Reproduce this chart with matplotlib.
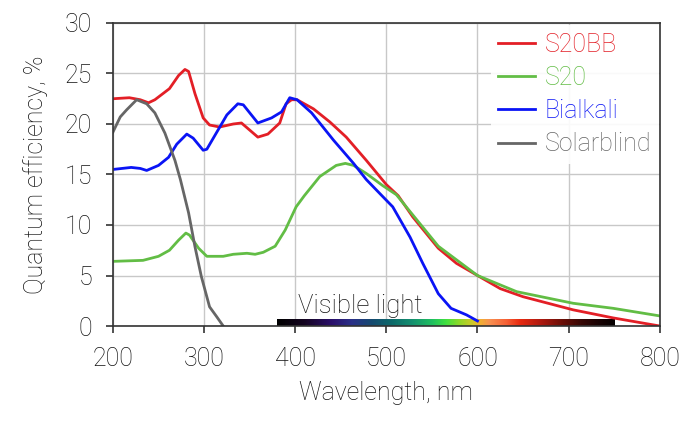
import matplotlib
matplotlib.use("Agg")
import matplotlib.pyplot as plt
import numpy as np
from matplotlib.colors import LinearSegmentedColormap

plt.rcParams['font.family'] = ['Roboto', 'DejaVu Sans']
plt.rcParams['font.weight'] = 'light'
plt.rcParams['axes.labelweight'] = 'light'

# ---- data ----
s20bb_x = [200, 218, 230, 239, 246, 262, 272, 279, 283, 290, 299, 306, 317, 332, 341,
           350, 359, 370, 383, 390, 396, 402, 420, 438, 456, 478, 500, 513, 529, 557,
           577, 600, 625, 650, 705, 749, 800]
s20bb_y = [22.5, 22.6, 22.4, 22.1, 22.4, 23.5, 24.8, 25.4, 25.2, 23.0, 20.6, 19.9, 19.7,
           20.0, 20.1, 19.4, 18.7, 19.0, 20.1, 22.0, 22.4, 22.4, 21.5, 20.2, 18.7, 16.4,
           14.0, 12.9, 10.8, 7.7, 6.2, 5.0, 3.7, 2.9, 1.6, 0.8, 0.0]

s20_x = [200, 233, 250, 262, 272, 280, 284, 294, 303, 321, 332, 347, 356, 365, 378,
         389, 401, 410, 427, 445, 455, 464, 478, 496, 511, 529, 557, 600, 643, 705, 749, 800]
s20_y = [6.4, 6.5, 6.9, 7.5, 8.5, 9.2, 9.0, 7.7, 6.9, 6.9, 7.1, 7.2, 7.1, 7.3, 7.9,
         9.5, 11.8, 12.9, 14.8, 15.9, 16.1, 15.9, 15.1, 13.9, 13.0, 11.0, 7.9, 5.0, 3.4,
         2.25, 1.75, 1.0]

bialkali_x = [200, 220, 230, 237, 250, 261, 270, 281, 288, 299, 303, 314, 325, 337, 343,
              359, 374, 385, 394, 402, 418, 442, 464, 478, 493, 507, 526, 540, 557, 571,
              588, 600]
bialkali_y = [15.5, 15.7, 15.6, 15.4, 15.9, 16.7, 18.0, 19.0, 18.6, 17.4, 17.5, 19.2, 20.9,
              22.0, 21.9, 20.1, 20.6, 21.2, 22.6, 22.4, 21.1, 18.4, 16.1, 14.5, 13.1, 11.8,
              8.8, 6.2, 3.2, 1.75, 1.1, 0.5]

solar_x = [200, 208, 215, 226, 237, 246, 257, 268, 274, 283, 290, 297, 303, 306, 314, 321]
solar_y = [19.2, 20.7, 21.4, 22.4, 22.0, 21.1, 19.1, 16.4, 14.5, 11.2, 7.85, 4.9, 2.9,
           1.9, 0.9, 0.0]

series_labels = ["S20BB", "S20", "Bialkali", "Solarblind"]
series_colors = ["#e31f26", "#62bd45", "#0a14f5", "#666666"]

x_ticks = [200, 300, 400, 500, 600, 700, 800]
y_ticks = [0, 5, 10, 15, 20, 25, 30]

visible_range = [380, 750]
spectrum_stops = [(0.00, "#000000"), (0.08, "#140420"), (0.16, "#2a0f6a"),
                  (0.22, "#2a3088"), (0.28, "#154a70"), (0.34, "#0d6a6a"),
                  (0.40, "#159070"), (0.46, "#20c060"), (0.50, "#40e040"),
                  (0.54, "#90d828"), (0.58, "#d0c828"), (0.60, "#f0b030"),
                  (0.63, "#f89050"), (0.68, "#f56035"),
                  (0.72, "#e82a10"), (0.78, "#b01a10"), (0.84, "#701008"),
                  (0.90, "#380805"), (0.95, "#1a0303"), (1.00, "#050000")]

# ---- figure ----
fig = plt.figure(figsize=(6.93, 4.28), dpi=100)
ax = fig.add_axes([0.163, 0.2383, 0.789, 0.708])

xs_all = [s20bb_x, s20_x, bialkali_x, solar_x]
ys_all = [s20bb_y, s20_y, bialkali_y, solar_y]
for xs, ys, lab, col in zip(xs_all, ys_all, series_labels, series_colors):
    ax.plot(xs, ys, color=col, lw=2.0, label=lab, zorder=4, solid_joinstyle='round')

cmap = LinearSegmentedColormap.from_list("spec", spectrum_stops)
grad = np.linspace(0, 1, 512).reshape(1, -1)
ax.imshow(grad, cmap=cmap, aspect='auto',
          extent=[visible_range[0], visible_range[1], -0.17, 0.62], zorder=3)
ax.text(471, 0.75, "Visible light", ha='center', va='bottom',
        fontsize=18.5, color='#111111', zorder=5)

ax.set_xlim(200, 800)
ax.set_ylim(0, 30)
ax.set_xticks(x_ticks)
ax.set_yticks(y_ticks)
ax.grid(True, color='#c8c8c8', lw=1.0)
ax.set_axisbelow(True)
for sp in ax.spines.values():
    sp.set_color('#333333')
    sp.set_linewidth(1.2)
    sp.set_zorder(6)
ax.tick_params(axis='both', direction='out', length=5, width=1.2, color='#333333',
               labelsize=18, pad=10, labelcolor='#111111')
ax.set_xlabel("Wavelength, nm", fontsize=18, labelpad=7, color='#111111')
ax.set_ylabel("Quantum efficiency, %", fontsize=18, labelpad=12, color='#111111')

leg = ax.legend(loc='upper right', bbox_to_anchor=(0.998, 0.993), fontsize=18,
                frameon=True, handlelength=1.45, handletextpad=0.4,
                labelspacing=0.37, borderaxespad=0.0, borderpad=0.3)
leg.get_frame().set_edgecolor('none')
leg.get_frame().set_facecolor('white')
leg.get_frame().set_alpha(0.9)
for txt, col in zip(leg.get_texts(), series_colors):
    txt.set_color(col)

fig.savefig("out.png", dpi=100)
